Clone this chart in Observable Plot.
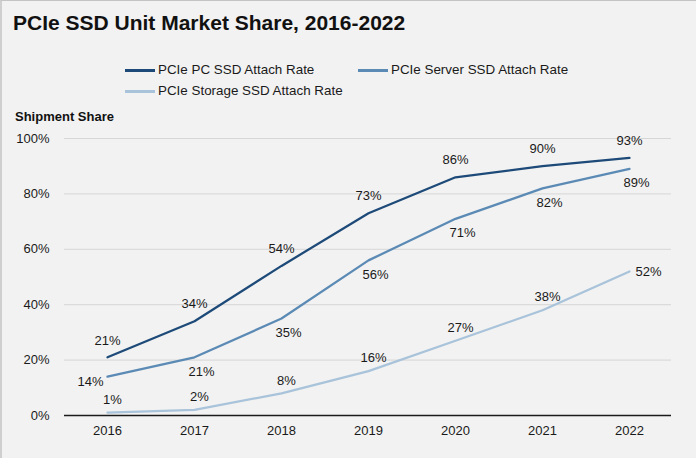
<!DOCTYPE html>
<html>
<head>
<meta charset="utf-8">
<script src="https://cdn.jsdelivr.net/npm/d3@7"></script>
<script src="https://cdn.jsdelivr.net/npm/@observablehq/plot@0.6"></script>
<style>
  html, body { margin: 0; padding: 0; background: #f2f2f2; }
  #wrap { position: relative; width: 696px; height: 458px; background: #f2f2f2; box-sizing: border-box;
          border-top: 1px solid #c4c4c4; border-left: 2px solid #cfcfcf; overflow: hidden;
          font-family: "Liberation Sans", Arial, sans-serif; color: #1a1a1a; }
  .t { position: absolute; white-space: nowrap; }
  #title { left: 11px; top: 11px; font-size: 21px; line-height: 21px; font-weight: bold; color: #111; }
  .leg { position: absolute; font-size: 13.4px; line-height: 13px; white-space: nowrap; }
  .sw { position: absolute; height: 2.5px; width: 30px; }
  #ylab { left: 13px; top: 109px; font-size: 13px; line-height: 13px; font-weight: bold; color: #111; }
  #chart { position: absolute; left: -2px; top: 99px; }
</style>
</head>
<body>
<div id="wrap">
  <div id="title" class="t"></div>
  <div id="legend"></div>
  <div id="ylab" class="t"></div>
  <div id="chart"></div>
</div>
<script>
const years = [2016, 2017, 2018, 2019, 2020, 2021, 2022];
const pcRate = [21, 34, 54, 73, 86, 90, 93];
const serverRate = [14, 21, 35, 56, 71, 82, 89];
const storageRate = [1, 2, 8, 16, 27, 38, 52];
const seriesNames = ["PCIe PC SSD Attach Rate", "PCIe Server SSD Attach Rate", "PCIe Storage SSD Attach Rate"];
const yTicks = [0, 0.2, 0.4, 0.6, 0.8, 1.0];
const titleText = "PCIe SSD Unit Market Share, 2016-2022";
const yLabelText = "Shipment Share";

const seriesColors = ["#1d4a78", "#5b8ab5", "#a8c3da"];

document.getElementById("title").textContent = titleText;
document.getElementById("ylab").textContent = yLabelText;

// legend
const legendSlots = [{x: 123, y: 62}, {x: 356, y: 62}, {x: 123, y: 83}];
const legend = document.getElementById("legend");
seriesNames.forEach((name, i) => {
  const s = legendSlots[i];
  const sw = document.createElement("div");
  sw.className = "sw";
  sw.style.left = s.x + "px";
  sw.style.top = (s.y + 6) + "px";
  sw.style.background = seriesColors[i];
  legend.appendChild(sw);
  const tx = document.createElement("div");
  tx.className = "leg";
  tx.style.left = (s.x + 33) + "px";
  tx.style.top = s.y + "px";
  tx.textContent = name;
  legend.appendChild(tx);
});

const valuesBySeries = [pcRate, serverRate, storageRate];
const data = [];
seriesNames.forEach((name, si) => {
  years.forEach((yr, i) => data.push({year: yr, series: name, value: valuesBySeries[si][i] / 100}));
});
const pct = d3.format(".0%");
const pc = data.filter(d => d.series === seriesNames[0]);
const server = data.filter(d => d.series === seriesNames[1]);
const storage = data.filter(d => d.series === seriesNames[2]);
const first = years[0], last = years[years.length - 1];

const labelStyle = {x: "year", y: "value", text: d => pct(d.value), fill: "#1a1a1a", fontSize: 13};

const chart = Plot.plot({
  width: 696,
  height: 359,
  marginLeft: 64,
  marginRight: 25,
  marginTop: 38,
  marginBottom: 44,
  style: {fontFamily: "Liberation Sans, Arial, sans-serif", fontSize: "13px", color: "#1a1a1a", background: "transparent", overflow: "visible"},
  x: {type: "point", domain: years, padding: 0.48, label: null},
  y: {domain: [0, 1], label: null},
  color: {domain: seriesNames, range: seriesColors},
  marks: [
    Plot.gridY(yTicks.filter(t => t > 0), {stroke: "#d6d6d6", strokeOpacity: 1, strokeWidth: 1}),
    Plot.axisY(yTicks, {tickSize: 0, tickPadding: 15, tickFormat: pct, fontSize: 13, label: null}),
    Plot.axisX({tickSize: 0, tickPadding: 10, tickFormat: d => String(d), fontSize: 13, label: null}),
    Plot.ruleY([0], {stroke: "#1a1a1a", strokeWidth: 1.5}),
    Plot.lineY(data, {x: "year", y: "value", z: "series", stroke: "series", strokeWidth: 2.25}),
    Plot.text(pc, {...labelStyle, dy: -17}),
    Plot.text(server.filter(d => d.year !== first), {...labelStyle, dx: 7, dy: 14}),
    Plot.text(server.filter(d => d.year === first), {...labelStyle, textAnchor: "end", dx: -4, dy: 5}),
    Plot.text(storage.filter(d => d.year !== last), {...labelStyle, dx: 5, dy: -13}),
    Plot.text(storage.filter(d => d.year === last), {...labelStyle, textAnchor: "start", dx: 6})
  ]
});
document.getElementById("chart").appendChild(chart);
</script>
</body>
</html>
